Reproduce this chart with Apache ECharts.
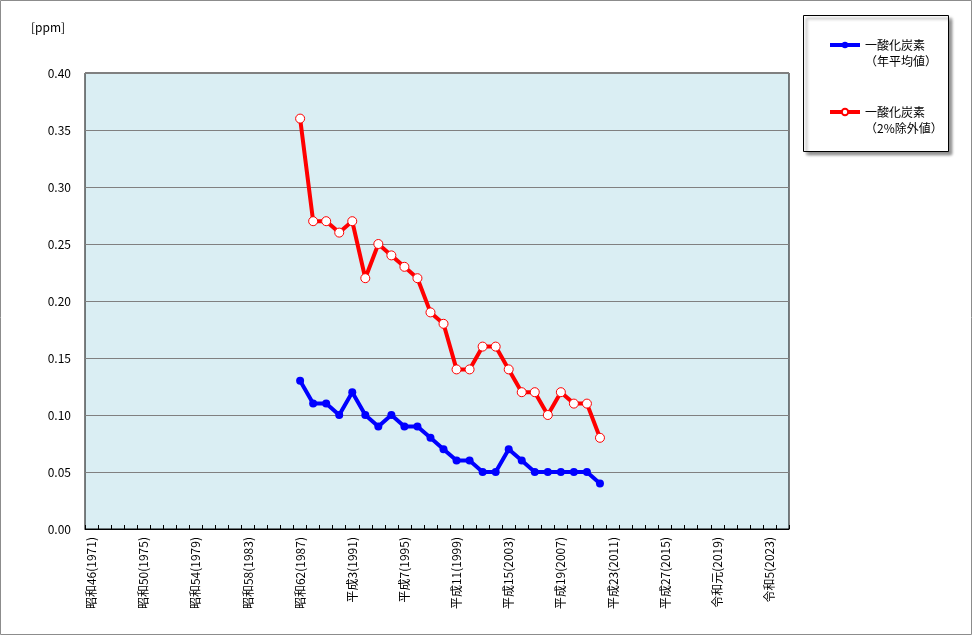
<!DOCTYPE html>
<html>
<head>
<meta charset="utf-8">
<script src="https://cdn.jsdelivr.net/npm/echarts@6/dist/echarts.min.js"></script>
<style>
  html, body { margin: 0; padding: 0; background: #fff; }
  #chart { width: 972px; height: 635px; }
</style>
</head>
<body>
<div id="chart"></div>
<script>
// 年 (1971〜2024)
const years = [];
for (let y = 1971; y <= 2024; y++) years.push(y);

// 和暦ラベル
const eraLabel = (y) => {
    if (y < 1989) return '昭和' + (y - 1925) + '(' + y + ')';
    if (y === 1989) return '平成元(' + y + ')';
    if (y < 2019) return '平成' + (y - 1988) + '(' + y + ')';
    if (y === 2019) return '令和元(' + y + ')';
    return '令和' + (y - 2018) + '(' + y + ')';
};
const categories = years.map(eraLabel);

// 測定値 1987〜2010
const firstYear = 1987;
const annualMean = [0.13, 0.11, 0.11, 0.10, 0.12, 0.10, 0.09, 0.10, 0.09, 0.09, 0.08, 0.07,
    0.06, 0.06, 0.05, 0.05, 0.07, 0.06, 0.05, 0.05, 0.05, 0.05, 0.05, 0.04];
const excl2pct = [0.36, 0.27, 0.27, 0.26, 0.27, 0.22, 0.25, 0.24, 0.23, 0.22, 0.19, 0.18,
    0.14, 0.14, 0.16, 0.16, 0.14, 0.12, 0.12, 0.10, 0.12, 0.11, 0.11, 0.08];

const yTicks = [0, 0.05, 0.10, 0.15, 0.20, 0.25, 0.30, 0.35, 0.40];

const pad = (arr) => years.map(y => {
    const i = y - firstYear;
    return (i >= 0 && i < arr.length) ? arr[i] : null;
});

const font = '"Noto Sans CJK JP", sans-serif';
const chart = echarts.init(document.getElementById('chart'));

const option = {
    animation: false,
    textStyle: { fontFamily: font },
    grid: {
        left: 85, right: 183, top: 73, bottom: 106,
        show: true,
        backgroundColor: '#DAEEF3',
        borderColor: '#000',
        borderWidth: 1
    },
    graphic: [
        {
            type: 'rect',
            shape: { x: 0.5, y: 0.5, width: 971, height: 634 },
            style: { fill: 'none', stroke: '#8c8c8c', lineWidth: 1 },
            z: -10
        },
        {
            type: 'rect',
            shape: { x: 803.5, y: 15.5, width: 145, height: 136 },
            style: {
                fill: '#fff', stroke: '#000', lineWidth: 1,
                shadowBlur: 3, shadowOffsetX: 3, shadowOffsetY: 3, shadowColor: 'rgba(0,0,0,0.45)'
            },
            z: 0
        },
        {
            type: 'text',
            left: 31, top: 21,
            style: { text: '[ppm]', fontSize: 12, fill: '#000', fontFamily: font }
        }
    ],
    legend: {
        orient: 'vertical',
        left: 823, top: 16,
        itemWidth: 30, itemHeight: 8,
        itemGap: 19,
        z: 5,
        textStyle: { fontSize: 12, color: '#000', lineHeight: 16, fontFamily: font },
        formatter: (name) => name === 'mean'
            ? '\n一酸化炭素\n（年平均値）'
            : '\n一酸化炭素\n（2%除外値）',
        data: [
            { name: 'mean', lineStyle: { width: 4 } },
            { name: 'excl', lineStyle: { width: 4 } }
        ]
    },
    xAxis: {
        type: 'category',
        data: categories,
        boundaryGap: true,
        axisLine: { lineStyle: { color: '#000' } },
        axisTick: { show: true, inside: true, length: 4, interval: 0, lineStyle: { color: '#000' } },
        axisLabel: {
            interval: 3, rotate: 90, fontSize: 12, color: '#000', margin: 8, fontFamily: font
        },
        splitLine: { show: false }
    },
    yAxis: {
        type: 'value',
        min: 0, max: 0.4, interval: 0.05,
        axisLine: { show: false },
        axisTick: { show: false },
        axisLabel: {
            fontSize: 12, color: '#000', margin: 14, fontFamily: font,
            formatter: (v) => {
                const t = yTicks.find(k => Math.abs(k - v) < 1e-9);
                return (t !== undefined ? t : v).toFixed(2);
            }
        },
        splitLine: { lineStyle: { color: '#808080', width: 1 } }
    },
    series: [
        {
            name: 'mean',
            type: 'line',
            data: pad(annualMean),
            color: '#0000FF',
            lineStyle: { width: 4, color: '#0000FF' },
            symbol: 'circle',
            symbolSize: 8,
            showAllSymbol: true,
            itemStyle: { color: '#0000FF' },
            connectNulls: false
        },
        {
            name: 'excl',
            type: 'line',
            data: pad(excl2pct),
            color: '#FF0000',
            lineStyle: { width: 4, color: '#FF0000' },
            symbol: 'circle',
            symbolSize: 9,
            showAllSymbol: true,
            itemStyle: { color: '#fff', borderColor: '#FF0000', borderWidth: 1 },
            connectNulls: false
        }
    ]
};
chart.setOption(option);
</script>
</body>
</html>
